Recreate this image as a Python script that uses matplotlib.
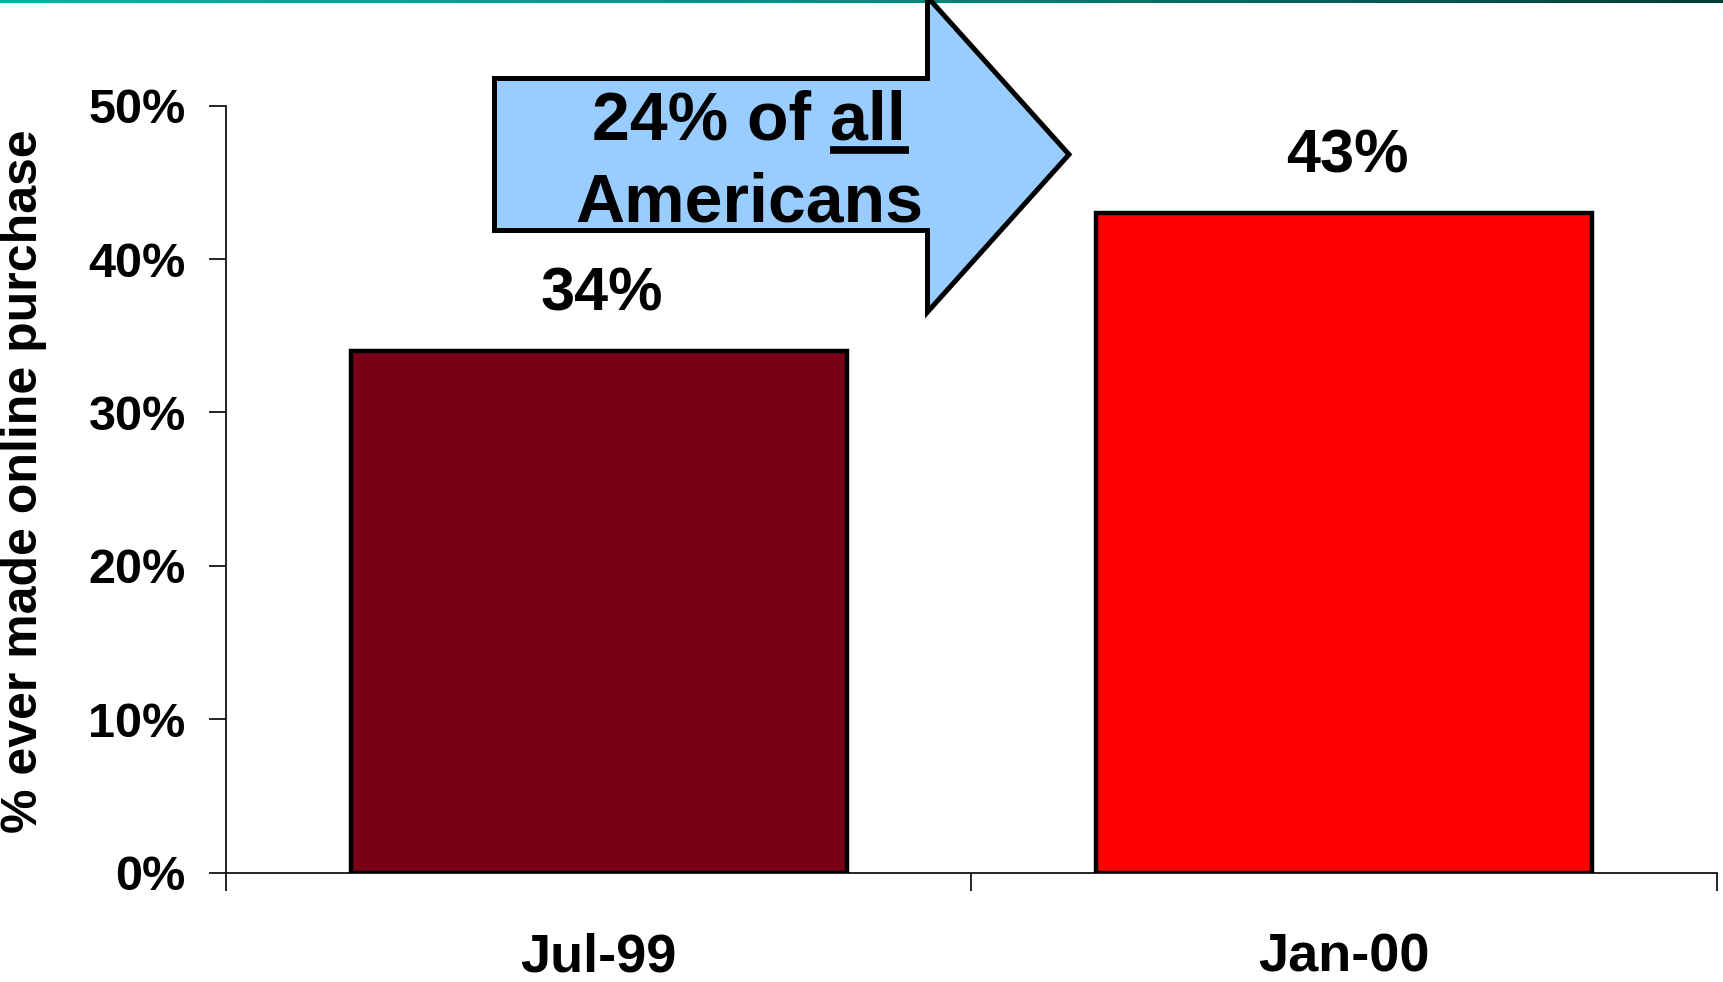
import numpy as np
import matplotlib
matplotlib.use("Agg")
import matplotlib.pyplot as plt
from matplotlib.patches import Polygon

plt.rcParams['font.family'] = ['Liberation Sans', 'DejaVu Sans']
plt.rcParams['font.weight'] = 'bold'

# data
periods = ["Jul-99", "Jan-00"]
share   = [0.34, 0.43]
labels  = ["34%", "43%"]
colors  = ["#780014", "#FF0000"]
yticks  = [0, 0.1, 0.2, 0.3, 0.4, 0.5]
ytick_labels = ["0%", "10%", "20%", "30%", "40%", "50%"]
note_line1 = "24% of all"
note_line2 = "Americans"

W, H = 1724, 982
fig = plt.figure(figsize=(W / 100, H / 100), dpi=100)

# thin gradient rule at the top
gax = fig.add_axes([0, 1 - 3 / H, 1, 3 / H])
grad = np.linspace(0, 1, 256)
cols = np.array([[0, 180, 162], [0, 140, 125], [0, 60, 56]]) / 255.0
rgb = np.stack([np.interp(grad, [0, 0.5, 1], cols[:, k]) for k in range(3)], axis=-1)
gax.imshow(rgb[np.newaxis, :, :], aspect='auto')
gax.axis('off')

ax = fig.add_axes([226 / W, 1 - 872.5 / H, (1717 - 226) / W, (872.5 - 105.7) / H])
x = np.arange(len(periods))
bars = ax.bar(x, share, width=0.665, color=colors, edgecolor='black', linewidth=3.2, zorder=3)
for b, lab in zip(bars, labels):
    ax.annotate(lab, (b.get_x() + b.get_width() / 2, b.get_height()),
                xytext=(2, 29.5), textcoords='offset points',
                ha='center', va='baseline', fontsize=44, fontweight='bold')

ax.set_xlim(-0.5, 1.5)
ax.set_ylim(0, 0.5)
ax.set_yticks(yticks)
ax.set_yticklabels(ytick_labels)
ax.set_xticks([-0.5, 0.5, 1.5])
ax.set_xticklabels([])
ax.set_xticks(x, minor=True)
ax.set_xticklabels(periods, minor=True)
ax.tick_params(axis='y', length=12, width=1.2, pad=17, labelsize=35)
ax.tick_params(axis='x', which='major', length=13, width=1.2, direction='out')
ax.tick_params(axis='x', which='minor', length=0, pad=43, labelsize=39)
for s in ['top', 'right']:
    ax.spines[s].set_visible(False)
for s in ['left', 'bottom']:
    ax.spines[s].set_linewidth(1.2)

fig.text(24 / W, 1 - 481 / H, "% ever made online purchase", rotation=90,
         ha='center', va='center', fontsize=36, fontweight='bold')

# callout arrow (figure pixel layout)
def fp(px, py):
    return (px / W, 1 - py / H)

arrow_pts = [fp(494.5, 78.5), fp(927.5, 78.5), fp(927.5, -3), fp(1069, 154.5),
             fp(927.5, 312), fp(927.5, 230.5), fp(494.5, 230.5)]
arrow = Polygon(arrow_pts, closed=True, facecolor='#99CCFF', edgecolor='black',
                linewidth=3.6, joinstyle='miter', transform=fig.transFigure,
                zorder=5, clip_on=False)
fig.add_artist(arrow)

t1 = fig.text(749 / W, 1 - 139 / H, note_line1, ha='center', va='baseline',
              fontsize=49, fontweight='bold', zorder=6)
fig.text(749 / W, 1 - 222 / H, note_line2, ha='center', va='baseline',
         fontsize=49, fontweight='bold', zorder=6)

# underline "all"
fig.canvas.draw()
r = fig.canvas.get_renderer()
bb = t1.get_window_extent(r)
tmp = fig.text(0, 0, "all", fontsize=49, fontweight='bold')
w_all = tmp.get_window_extent(r).width
tmp.remove()
uy = 1 - 150 / H
fig.add_artist(plt.Line2D([(bb.x1 - w_all) / W, (bb.x1 + 3) / W], [uy, uy],
                          transform=fig.transFigure, color='black', linewidth=5.5,
                          solid_capstyle='butt', zorder=6))

fig.savefig("out.png", dpi=100)
